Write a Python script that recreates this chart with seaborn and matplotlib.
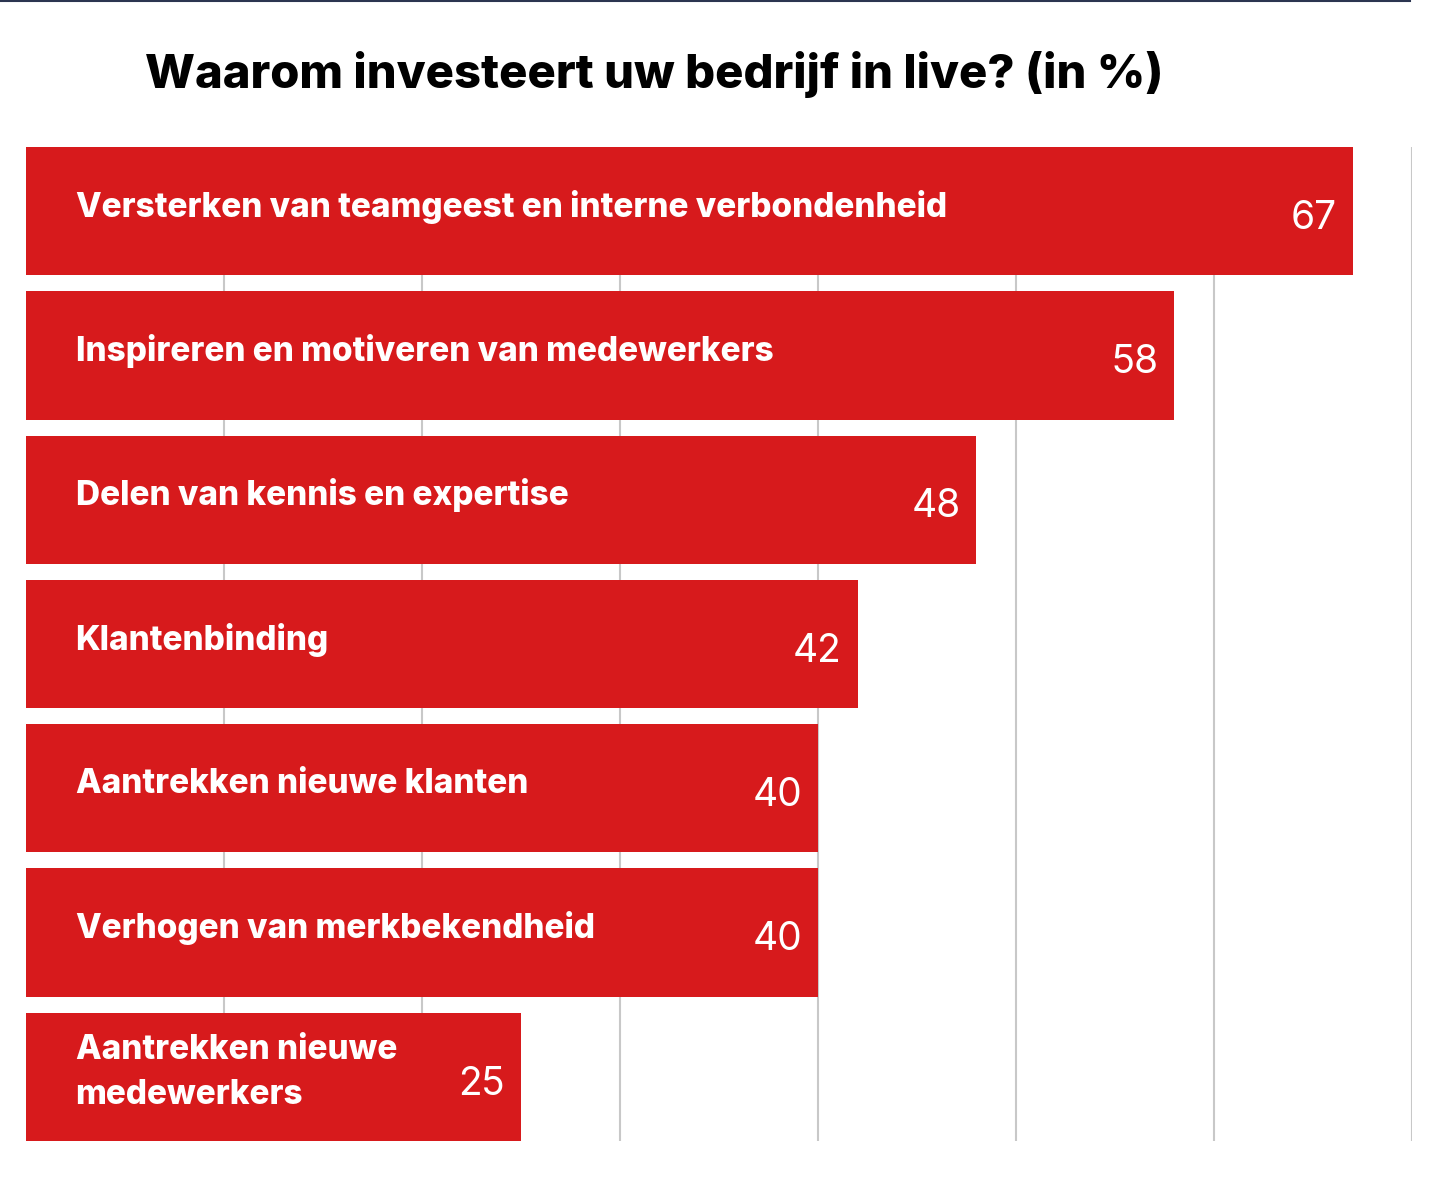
import matplotlib
matplotlib.use("Agg")
import matplotlib.pyplot as plt
import seaborn as sns
import pandas as pd

categories = [
    "Versterken van teamgeest en interne verbondenheid",
    "Inspireren en motiveren van medewerkers",
    "Delen van kennis en expertise",
    "Klantenbinding",
    "Aantrekken nieuwe klanten",
    "Verhogen van merkbekendheid",
    "Aantrekken nieuwe\nmedewerkers",
]
values = [67, 58, 48, 42, 40, 40, 25]
title = "Waarom investeert uw bedrijf in live? (in %)"

df = pd.DataFrame({"cat": categories, "val": values})
fig = plt.figure(figsize=(14.42, 11.84), dpi=100)
ax = fig.add_axes([26/1442, 1-1141/1184, (1412-26)/1442, (1141-147)/1184])
ax.set_axisbelow(True)
for x in range(10, 71, 10):
    ax.axvline(x, color="#c8c8c8", lw=1.5, zorder=0)
sns.barplot(data=df, x="val", y="cat", orient="h", color="#d71a1c",
            width=0.89, saturation=1, ax=ax, zorder=2)
for i, (c, v) in enumerate(zip(categories, values)):
    ax.text(2.5, i - 0.03, c, color="white", fontsize=24, fontweight="heavy",
            va="center", ha="left", family="Inter", linespacing=1.55, zorder=3)
    ax.text(v - 0.8, i + 0.05, str(v), color="white", fontsize=28,
            va="center", ha="right", family="Inter", zorder=3)
ax.set_xlim(0, 70)
ax.set_ylim(6.445, -0.445)
ax.set_xlabel(""); ax.set_ylabel("")
ax.set_xticks([]); ax.set_yticks([])
for s in ax.spines.values():
    s.set_visible(False)
fig.text(145/1442, 1-75/1184, title, fontsize=34, fontweight="heavy",
         family="Inter", va="center", ha="left")
fig.add_artist(plt.Line2D([0, 1410/1442], [0.999, 0.999], color="#2b3550", lw=1.5))
fig.savefig("out.png", dpi=100)
